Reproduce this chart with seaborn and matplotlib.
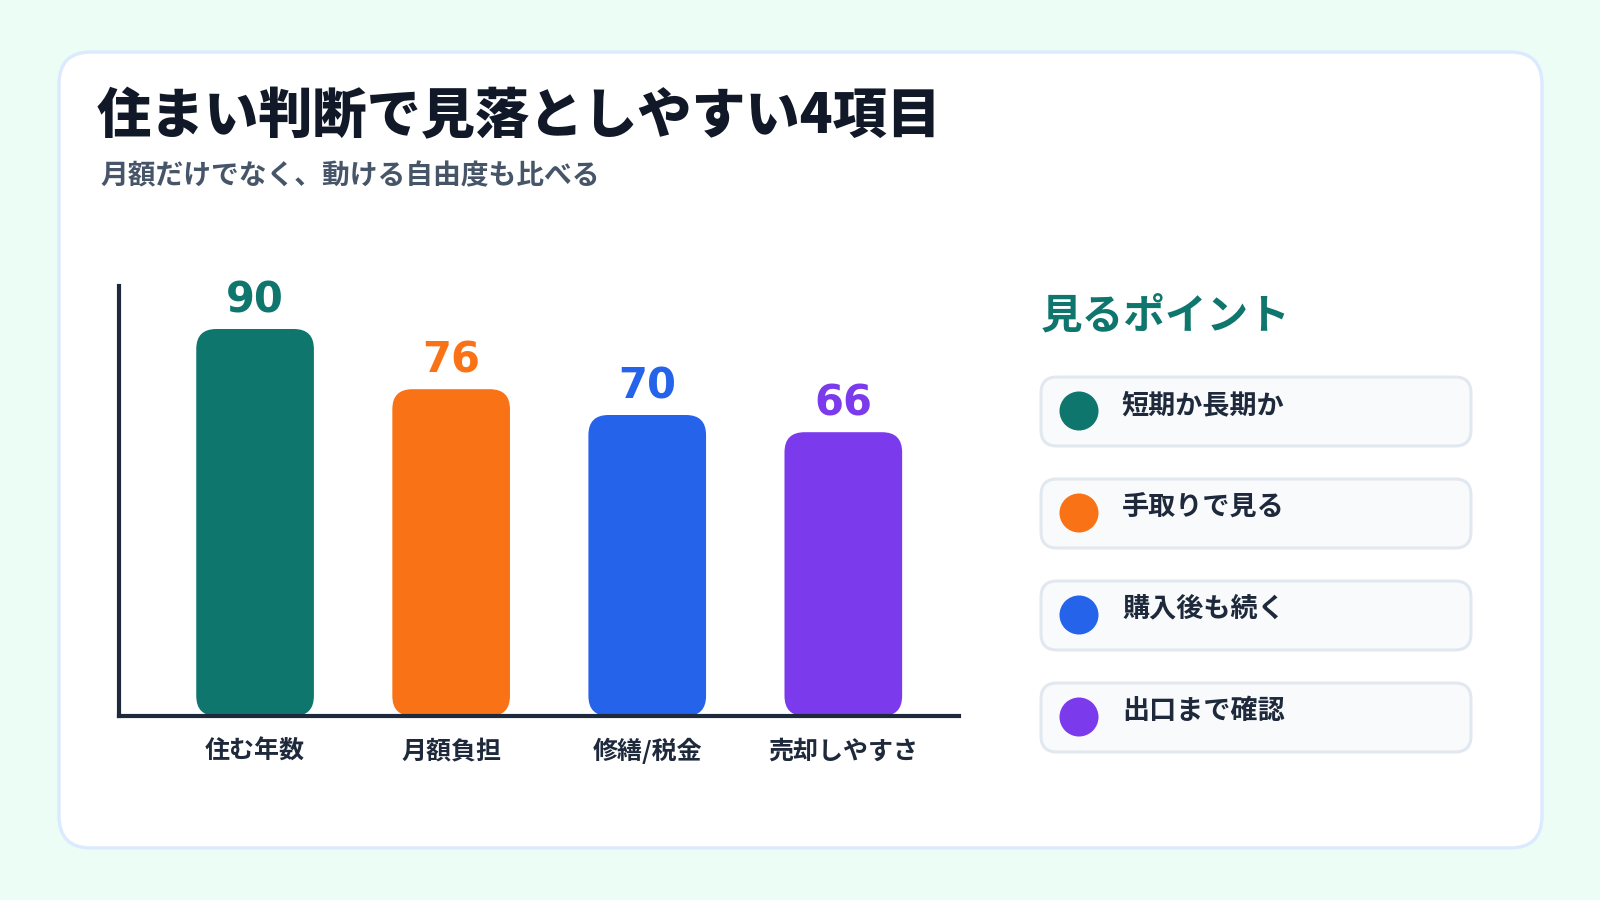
import matplotlib
matplotlib.use("Agg")
import matplotlib.pyplot as plt
import seaborn as sns
from matplotlib.patches import FancyBboxPatch, Circle

# ---- data ----
categories = ["住む年数", "月額負担", "修繕/税金", "売却しやすさ"]
values = [90, 76, 70, 66]
colors = ["#0f766e", "#f97316", "#2563eb", "#7c3aed"]
points = ["短期か長期か", "手取りで見る", "購入後も続く", "出口まで確認"]
title = "住まい判断で見落としやすい4項目"
subtitle = "月額だけでなく、動ける自由度も比べる"
panel_title = "見るポイント"

sns.set_theme(style="white")
plt.rcParams['font.family'] = ['Noto Sans CJK JP', 'DejaVu Sans']

W, H = 1600, 900
fig = plt.figure(figsize=(16, 9), dpi=100)
fig.patch.set_facecolor("#ecfdf5")

# background / pixel-coordinate layer
bg = fig.add_axes([0, 0, 1, 1], zorder=0)
bg.set_xlim(0, W)
bg.set_ylim(H, 0)
bg.axis('off')
bg.add_patch(FancyBboxPatch((59, 52), 1483, 796,
                            boxstyle="round,pad=0,rounding_size=32",
                            fc="white", ec="#dbeafe", lw=2.4))

bg.text(97, 117, title, fontsize=39, fontweight='heavy', color="#111827",
        ha='left', va='center')
bg.text(100, 176, subtitle, fontsize=20, fontweight='bold', color="#475569",
        ha='left', va='center')

# right panel
bg.text(1041, 317, panel_title, fontsize=30, fontweight='bold', color="#0f766e",
        ha='left', va='center')
for i, (txt, c) in enumerate(zip(points, colors)):
    top = 377 + 102 * i
    bg.add_patch(FancyBboxPatch((1041, top), 430, 69,
                                boxstyle="round,pad=0,rounding_size=16",
                                fc="#f8fafc", ec="#e2e8f0", lw=2.2))
    bg.add_patch(Circle((1079, top + 34), 19.5, fc=c, ec='none'))
    bg.text(1122, top + 28, txt, fontsize=19.5, fontweight='bold', color="#1e293b",
            ha='left', va='center')

# ---- bar chart ----
ax_l, ax_b, ax_w, ax_h = 119, 716, 840, 430
ax = fig.add_axes([ax_l / W, (H - ax_b) / H, ax_w / W, ax_h / H], zorder=2)
ax.patch.set_alpha(0)

sns.barplot(x=categories, y=values, hue=categories, palette=colors,
            width=0.6, legend=False, saturation=1, ax=ax)

x0, x1 = -0.694, 3.59
y0, y1 = 0, 100
ax.set_xlim(x0, x1)
ax.set_ylim(y0, y1)

# rounded bars
xu_per_px = (x1 - x0) / ax_w
yu_per_px = (y1 - y0) / ax_h
aspect = yu_per_px / xu_per_px
radius = 20 * xu_per_px
bars = list(ax.patches)
for p in bars:
    x, y = p.get_x(), p.get_y()
    w, h = p.get_width(), p.get_height()
    fc = p.get_facecolor()
    p.remove()
    ax.add_patch(FancyBboxPatch((x, y), w, h,
                                boxstyle=f"round,pad=0,rounding_size={radius}",
                                mutation_aspect=aspect, fc=fc, ec='none', zorder=1))

for i, (v, c) in enumerate(zip(values, colors)):
    ax.annotate(f"{v}", (i, v), xytext=(0, 12), textcoords='offset points',
                ha='center', va='baseline', fontsize=30, fontweight='bold',
                color=c, family='DejaVu Sans')

sns.despine(ax=ax)
for s in ['left', 'bottom']:
    ax.spines[s].set_color("#1e293b")
    ax.spines[s].set_linewidth(3)
    ax.spines[s].set_capstyle('projecting')
ax.set_yticks([])
ax.set_xticks(range(len(categories)))
ax.set_xticklabels(categories, fontsize=18, fontweight='bold', color="#1e293b")
ax.tick_params(axis='x', length=0, pad=31)
for lbl in ax.get_xticklabels():
    lbl.set_verticalalignment('baseline')
ax.set_xlabel("")
ax.set_ylabel("")

fig.savefig("out.png", dpi=100, facecolor=fig.get_facecolor())
